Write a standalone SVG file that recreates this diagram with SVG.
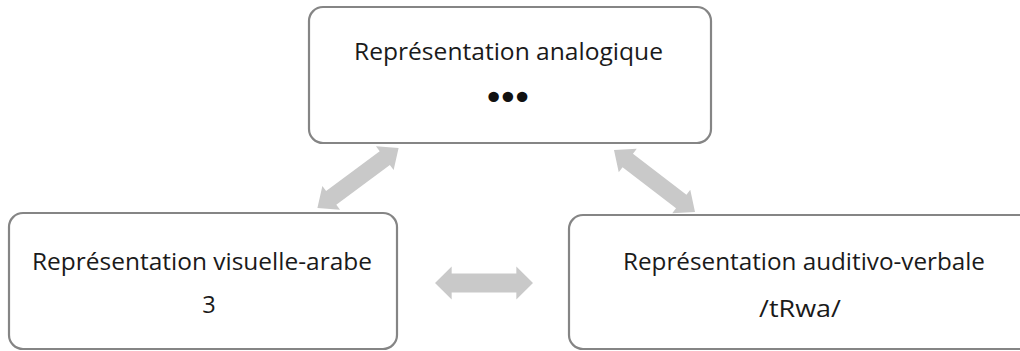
<svg xmlns="http://www.w3.org/2000/svg" width="1020" height="351" viewBox="0 0 1020 351">
<style>
.box{fill:#ffffff;stroke:#858585;stroke-width:2.2}
.lbl{font-family:"Open Sans","Liberation Sans",sans-serif;font-size:23.5px;fill:#1a1a1a;text-anchor:middle}
.dots{font-family:"DejaVu Sans",sans-serif;font-size:36px;fill:#111111;letter-spacing:-7px}
.arr{fill:#c9c9c9}
</style>
<defs>
<path id="dbl" d="M-50,0 L-33,-16.5 L-33,-9.5 L33,-9.5 L33,-16.5 L50,0 L33,16.5 L33,9.5 L-33,9.5 L-33,16.5 Z"/>
</defs>
<rect width="1020" height="351" fill="#ffffff"/>
<g id="connectors">
<use href="#dbl" class="arr" transform="translate(358,178) rotate(-36.5) scale(1.01,0.9)"/>
<use href="#dbl" class="arr" transform="translate(654.5,181) rotate(37.4) scale(1.02,0.9)"/>
<use href="#dbl" class="arr" transform="translate(484,283) scale(0.98,1)"/>
</g>
<g id="node-analogique">
<rect class="box" x="309" y="7" width="402" height="136" rx="14"/>
<text class="lbl" x="508.5" y="60" textLength="309" lengthAdjust="spacingAndGlyphs">Représentation analogique</text>
<text class="dots" x="483" y="110">•••</text>
</g>
<g id="node-visuelle">
<rect class="box" x="9" y="213" width="388" height="136" rx="14"/>
<text class="lbl" x="202" y="270" textLength="340" lengthAdjust="spacingAndGlyphs">Représentation visuelle-arabe</text>
<text class="lbl" x="209" y="313">3</text>
</g>
<g id="node-auditivo">
<rect class="box" x="569" y="215" width="470" height="134" rx="14"/>
<text class="lbl" x="804" y="270" textLength="362" lengthAdjust="spacingAndGlyphs">Représentation auditivo-verbale</text>
<text class="lbl" x="800" y="317" textLength="82" lengthAdjust="spacingAndGlyphs">/tRwa/</text>
</g>
</svg>
